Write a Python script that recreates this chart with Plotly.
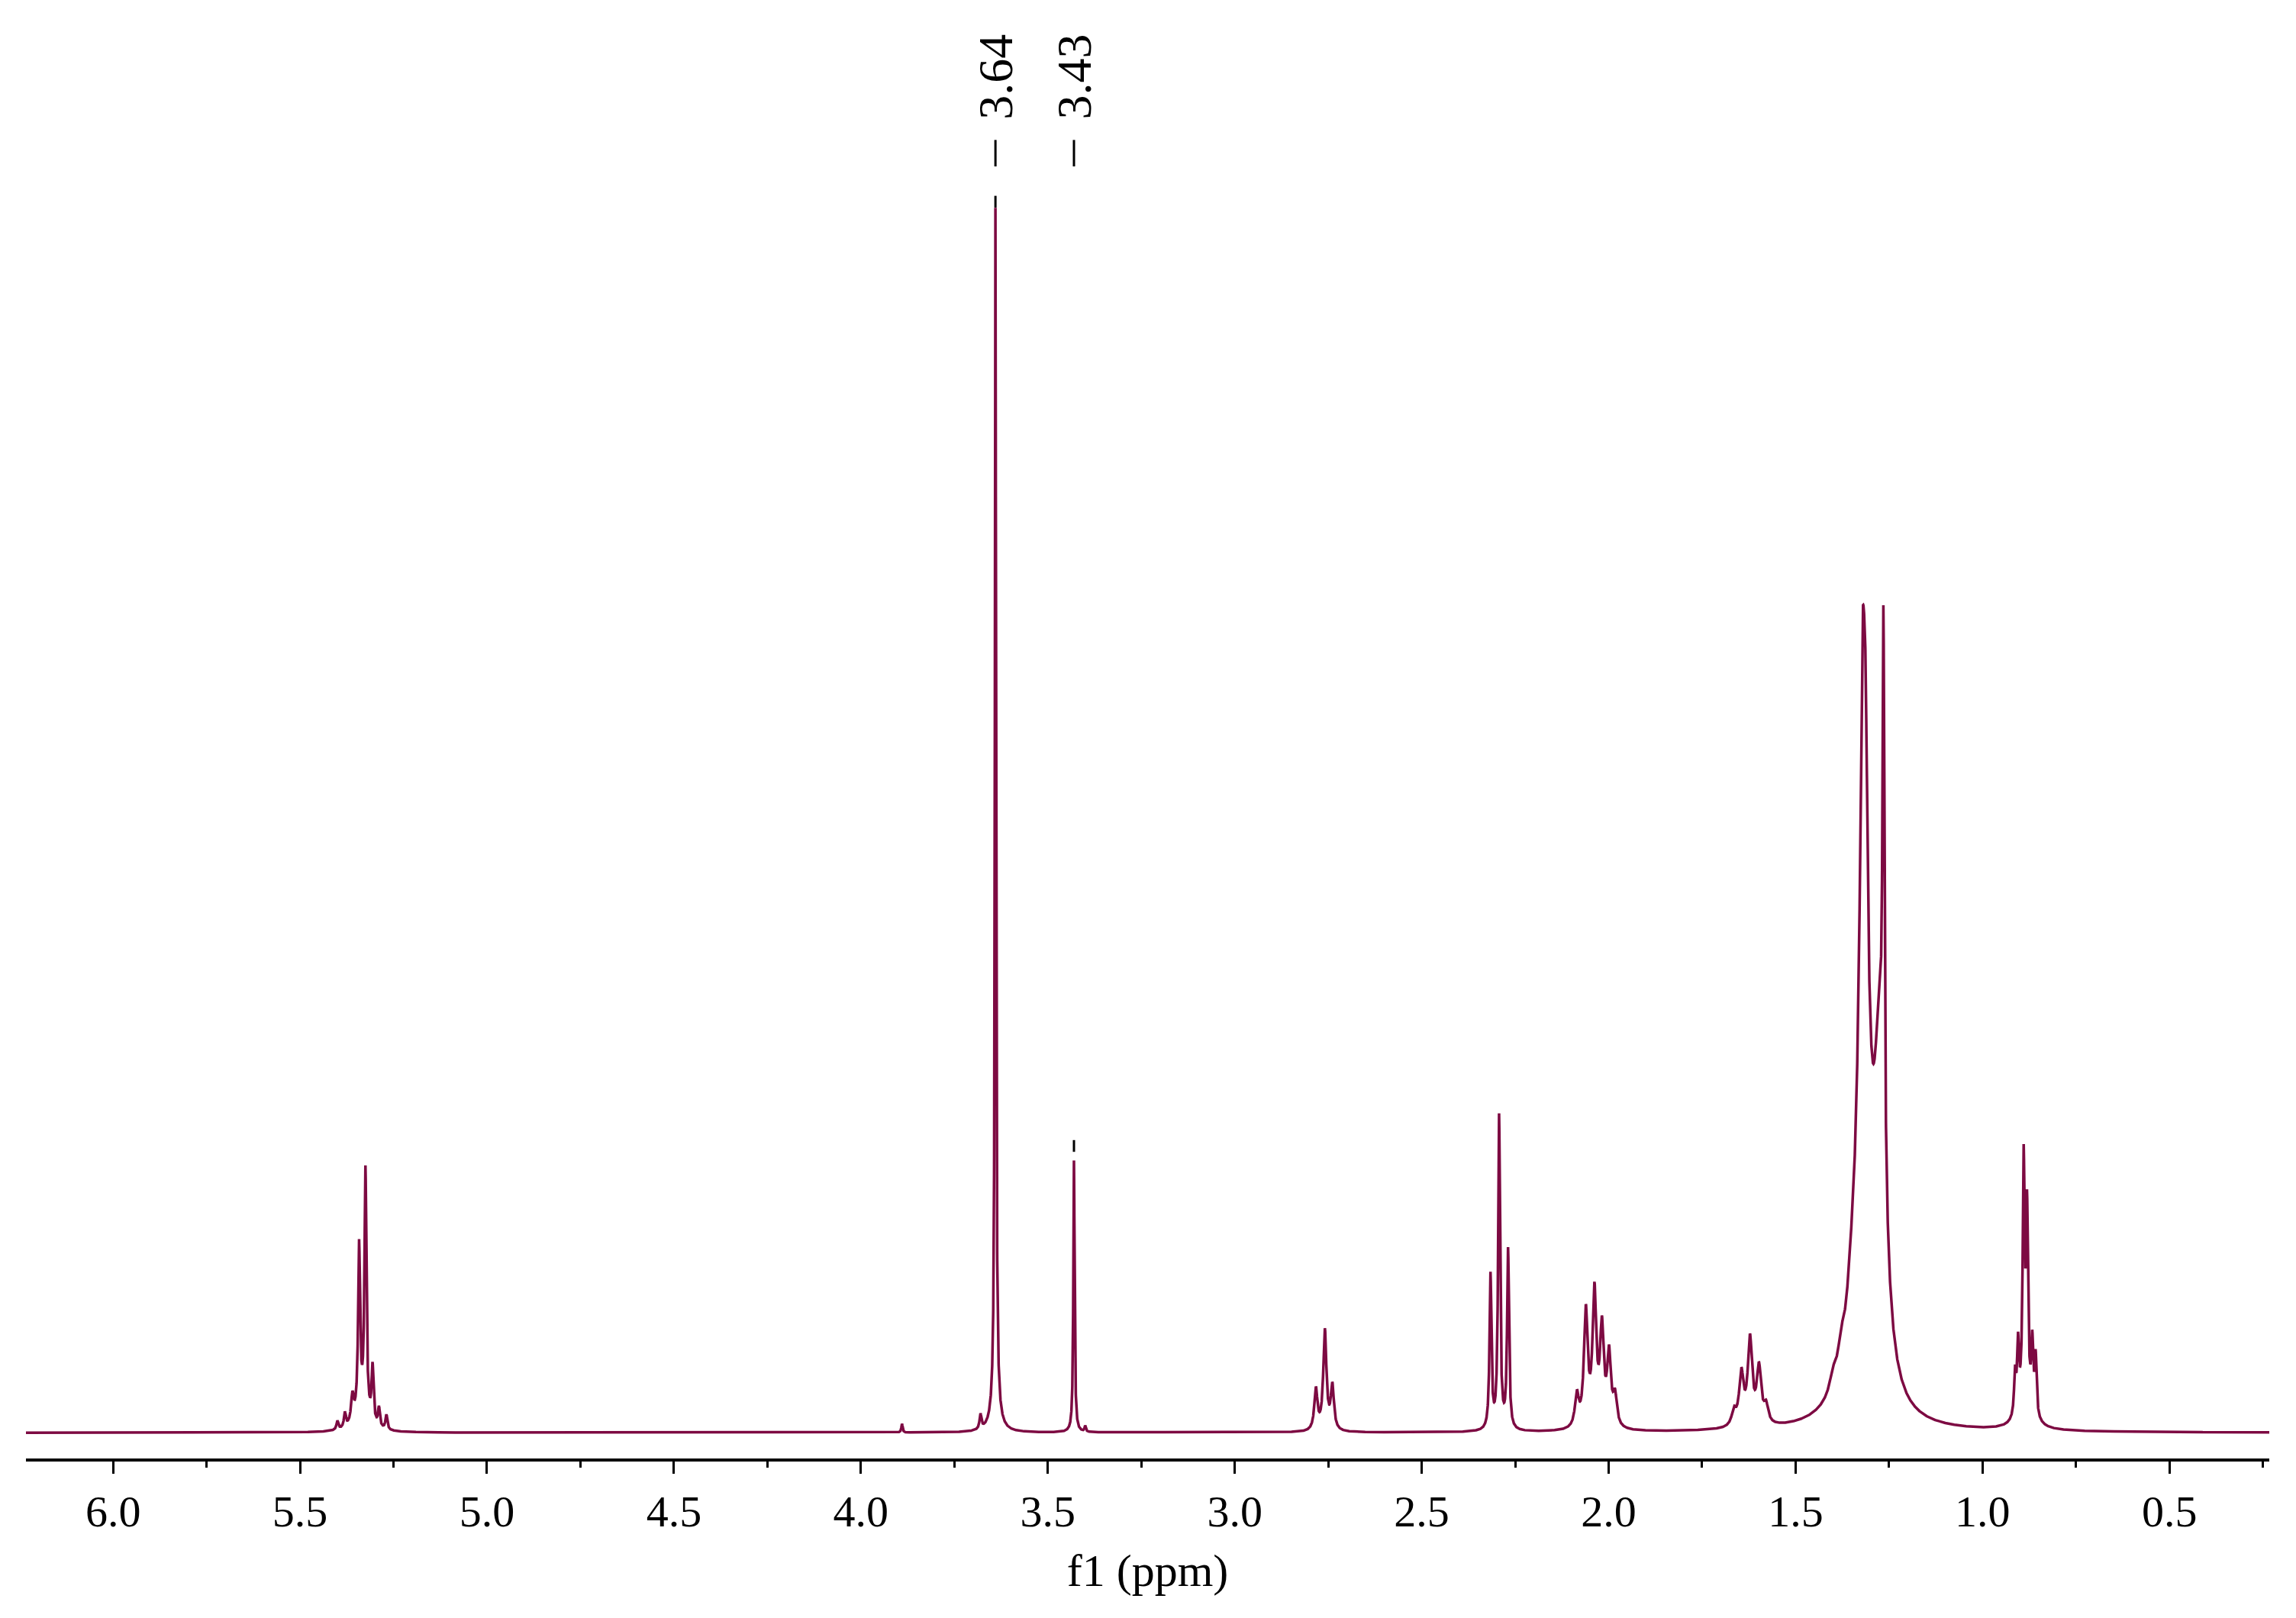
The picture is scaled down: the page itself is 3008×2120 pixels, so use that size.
import numpy as np
import plotly.graph_objects as go

# peak list: position (ppm), height (a.u.), half-width (ppm)
peak_ppm = [5.40, 5.38, 5.36, 5.342, 5.325, 5.306, 5.289, 5.269, 5.335,
            3.89, 3.68, 3.64, 3.64, 3.43, 3.40,
            2.783, 2.759, 2.739,
            2.316, 2.293, 2.269,
            2.085, 2.061, 2.038, 2.018, 1.999, 1.983,
            1.665, 1.645, 1.622, 1.598, 1.579,
            1.40, 1.378, 1.352, 1.32, 1.318, 1.322, 1.312, 1.275, 1.265,
            0.913, 0.905, 0.890, 0.881, 0.867, 0.858, 0.885]
peak_h = [6, 10, 18, 112, 165, 38, 13, 10, 15,
          6, 10, 815, 18, 185, 4,
          28, 68, 30,
          105, 213, 122,
          22, 78, 90, 65, 48, 20,
          10, 35, 58, 38, 12,
          10, 15, 15, 120, 360, 60, 60, 200, 356,
          28, 45, 160, 125, 45, 40, 20]
peak_w = [0.003, 0.003, 0.004, 0.003, 0.003, 0.003, 0.003, 0.003, 0.02,
          0.002, 0.003, 0.0018, 0.012, 0.002, 0.002,
          0.005, 0.005, 0.005,
          0.003, 0.003, 0.003,
          0.006, 0.006, 0.006, 0.006, 0.006, 0.006,
          0.007, 0.007, 0.007, 0.007, 0.007,
          0.01, 0.01, 0.012, 0.035, 0.012, 0.004, 0.004, 0.018, 0.003,
          0.003, 0.003, 0.003, 0.003, 0.003, 0.003, 0.02]

labels = ["3.64", "3.43"]
label_ppm = [3.64, 3.43]
label_peak_top = [831, 189]

x = np.linspace(6.233, 0.233, 40000)
y = np.zeros_like(x)
for p, h, w in zip(peak_ppm, peak_h, peak_w):
    y += h * w**2 / ((x - p)**2 + w**2)

col = "#7d0a42"
fig = go.Figure(go.Scatter(x=x, y=y, mode="lines", line=dict(color=col, width=3.5), hoverinfo="skip"))

shapes = []
annotations = []
for t, p, top in zip(labels, label_ppm, label_peak_top):
    annotations.append(dict(x=p, y=922, xref="x", yref="y", text=t, textangle=-90, showarrow=False,
                            font=dict(family="Liberation Serif", size=64, color="black")))
    shapes.append(dict(type="line", x0=p, x1=p, y0=861, y1=879, xref="x", yref="y",
                       line=dict(color="black", width=3)))
    shapes.append(dict(type="line", x0=p, x1=p, y0=top + 2, y1=top + 10, xref="x", yref="y",
                       line=dict(color="black", width=3)))

fig.update_layout(
    width=3008, height=2120, plot_bgcolor="white", paper_bgcolor="white",
    margin=dict(l=26, r=43, t=0, b=217), showlegend=False,
    shapes=shapes, annotations=annotations,
    font=dict(family="Liberation Serif", color="black"),
)
fig.update_xaxes(range=[6.233, 0.233], tick0=0, dtick=0.5, tickformat=".1f", ticks="outside",
                 ticklen=16, tickwidth=3, tickcolor="black", showline=True, linecolor="black", linewidth=3.5,
                 showgrid=False, zeroline=False, tickfont=dict(size=58),
                 minor=dict(dtick=0.25, tick0=0, ticks="outside", ticklen=8, tickwidth=3, tickcolor="black"),
                 title=dict(text="f1 (ppm)", font=dict(size=60), standoff=25))
fig.update_yaxes(range=[-17.5, 970], visible=False)
fig.write_html("out.html")
